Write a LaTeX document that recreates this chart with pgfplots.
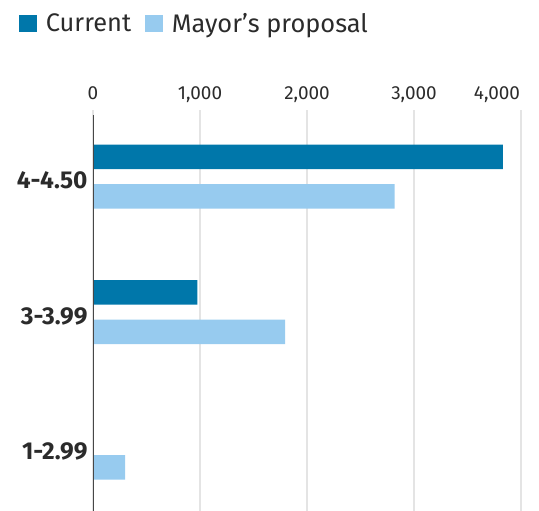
\documentclass[border=0pt]{standalone}
\usepackage{pgfplots}
\pgfplotsset{compat=1.18}
\usepackage{fontspec}
\setmainfont{Fira Sans}

\definecolor{cur}{HTML}{0077AA}
\definecolor{may}{HTML}{97CBEF}
\definecolor{txt}{HTML}{2B2B2B}
\definecolor{gridc}{HTML}{E4E4E4}

\begin{document}
\begin{tikzpicture}
\useasboundingbox (0,0) rectangle (539bp,511bp);
\begin{axis}[
    at={(93bp,0bp)}, anchor=south west,
    scale only axis,
    width=428bp, height=401bp,
    xmin=0, xmax=4000,
    ymin=-0.469, ymax=2.493,
    xbar,
    bar width=24.5bp,
    axis line style={draw=none},
    major tick length=0pt,
    xtick={0,1000,2000,3000},
    extra x ticks={4000},
    extra x tick style={xticklabel style={xshift=-24bp}},
    xmajorgrids,
    grid style={gridc, line width=1.3bp},
    xticklabel pos=upper,
    xticklabel style={anchor=base, yshift=10bp, font=\fontsize{19}{22}\selectfont, text=txt},
    /pgf/number format/assume math mode=true,
    /pgf/number format/1000 sep={,},
    ytick={0,1,2},
    yticklabels={1-2.99,3-3.99,4-4.50},
    yticklabel style={anchor=base east, yshift=-12bp, xshift=-2bp,
        font=\bfseries\fontsize{24.5}{28}\selectfont, text=txt},
    legend columns=-1,
    legend style={draw=none, fill=none, at={(axis description cs:0,1)},
        anchor=north west, xshift=-77bp, yshift=101bp,
        font=\fontsize{25.5}{30}\selectfont, text=txt,
        /tikz/every odd column/.append style={column sep=7bp},
        /tikz/every even column/.append style={column sep=12bp}},
]
\addplot[fill=cur, draw=none, bar shift=19.75bp,
    legend image code/.code={\fill[cur] (0bp,-8.2bp) rectangle (17.7bp,8.2bp);}]
    coordinates {(0,0) (975,1) (3830,2)};
\addlegendentry{Current}
\addplot[fill=may, draw=none, bar shift=-19.75bp,
    legend image code/.code={\fill[may] (0bp,-8.2bp) rectangle (17.7bp,8.2bp);}]
    coordinates {(300,0) (1795,1) (2820,2)};
\addlegendentry{Mayor’s proposal}
\draw[black!72, line width=1.5bp] (axis cs:0,-0.469) -- ([yshift=-5bp]axis cs:0,2.493);
\end{axis}
\end{tikzpicture}
\end{document}
